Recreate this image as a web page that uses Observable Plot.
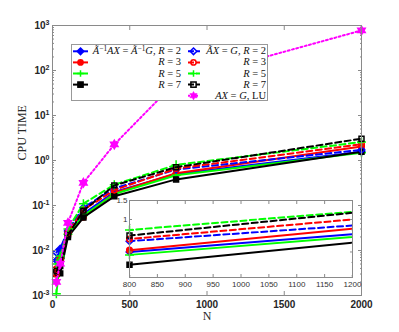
<!DOCTYPE html>
<html><head><meta charset="utf-8">
<script src="https://cdn.jsdelivr.net/npm/d3@7"></script>
<script src="https://cdn.jsdelivr.net/npm/@observablehq/plot@0.6"></script>
<style>
body{margin:0;background:#fff;}
#wrap{position:relative;width:399px;height:332px;overflow:hidden;background:#fff;}
#inset{position:absolute;left:109px;top:195px;}
#legend{position:absolute;left:71px;top:44px;width:195px;height:55px;border:1px solid #999;background:#fff;
  font-family:"Liberation Serif","Times New Roman",serif;font-size:10.5px;color:#111;}
#legend .t{position:absolute;text-align:right;white-space:nowrap;}
#legend i{font-style:italic;}
#legend sup{font-size:70%;vertical-align:0;position:relative;top:-0.45em;}
#legend svg{position:absolute;overflow:visible;}
</style></head><body><div id="wrap"></div>
<script>
// ---------------- data ----------------
const N = [25, 50, 100, 200, 400, 800, 2000];
// Ã^{-1} A X = Ã^{-1} G (solid lines, filled markers)
const pre_R2 = [0.006, 0.0103, 0.026, 0.065, 0.20, 0.50, 1.56];
const pre_R3 = [0.0039, 0.0062, 0.022, 0.055, 0.19, 0.52, 2.04];
const pre_R5 = [0.0011, 0.0066, 0.023, 0.060, 0.18, 0.47, 1.49];
const pre_R7 = [0.0030, 0.0031, 0.020, 0.054, 0.16, 0.38, 1.57];
// Ã X = G (dashed lines, open markers)
const til_R2 = [0.0090, 0.0110, 0.028, 0.090, 0.24, 0.63, 1.72];
const til_R3 = [0.0030, 0.0065, 0.025, 0.080, 0.22, 0.66, 2.30];
const til_R5 = [0.0050, 0.0075, 0.030, 0.110, 0.29, 0.80, 2.57];
const til_R7 = [0.0035, 0.0045, 0.022, 0.077, 0.28, 0.71, 3.05];
// A X = G, LU
const lu = [0.0020, 0.0051, 0.041, 0.32, 2.27, 57, 776];

const yMajor = [1e-3, 1e-2, 1e-1, 1, 10, 100, 1000];
const xTicks = [0, 500, 1000, 1500, 2000];
const insetXTicks = [800, 850, 900, 950, 1000, 1050, 1100, 1150, 1200];
const insetYTicks = [0.5, 1, 1.5];

// ---------------- styles ----------------
const hexagram = {draw(ctx, size){
  const R = Math.sqrt(size) * 0.75, r = R / Math.sqrt(3);
  for (let i = 0; i < 12; i++) {
    const a = Math.PI / 6 * i - Math.PI / 2, rr = i % 2 ? r : R;
    const x = rr * Math.cos(a), y = rr * Math.sin(a);
    i ? ctx.lineTo(x, y) : ctx.moveTo(x, y);
  }
  ctx.closePath();
}};

const series = [
  {v: pre_R2, color: "#0000ff", dash: null, symbol: "diamond2", filled: true, r: 3},
  {v: pre_R3, color: "#ff0000", dash: null, symbol: "circle", filled: true, r: 2.8},
  {v: pre_R5, color: "#00ff00", dash: null, symbol: "plus", filled: true, r: 3},
  {v: pre_R7, color: "#000000", dash: null, symbol: "square", filled: true, r: 2.8},
  {v: til_R2, color: "#0000ff", dash: "6,3.5", symbol: "diamond2", filled: false, r: 3},
  {v: til_R3, color: "#ff0000", dash: "6,3.5", symbol: "circle", filled: false, r: 2.8},
  {v: til_R5, color: "#00ff00", dash: "6,3.5", symbol: "plus", filled: false, r: 3},
  {v: til_R7, color: "#000000", dash: "6,3.5", symbol: "square", filled: false, r: 2.8},
  {v: lu, color: "#ff00ff", dash: "2,2.4", symbol: hexagram, filled: true, r: 3.2, dotted: true}
];

function seriesMarks(filter, clip) {
  const m = [];
  for (const s of series) {
    const data = N.map((n, i) => ({N: n, v: s.v[i]}));
    m.push(Plot.line(data, {x: "N", y: "v", stroke: s.color, strokeWidth: 2, strokeDasharray: s.dash, clip}));
    m.push(Plot.dot(data, {x: "N", y: "v", symbol: s.symbol, r: s.r, stroke: s.color,
      fill: s.filled ? s.color : "none", strokeWidth: 1.5, filter}));
  }
  return m;
}

const yMinor = [];
for (let e = -3; e < 3; e++) for (let k = 2; k < 10; k++) yMinor.push(k * 10 ** e);

const axisColor = "#8a8a8a";
const W = 399, H = 332;
const blank = () => "";

const main = Plot.plot({
  width: W, height: H,
  marginLeft: 52, marginRight: 38, marginTop: 25, marginBottom: 37,
  style: {fontFamily: "'Liberation Sans', Arial, sans-serif", fontSize: "10px", fontWeight: "bold", color: "#262626", background: "white"},
  x: {domain: [0, 2000], axis: null},
  y: {type: "log", domain: [1e-3, 1e3], axis: null},
  marks: [
    ...seriesMarks(null, false),
    Plot.axisY(yMajor, {anchor: "left", label: null, tickSize: -4, tickPadding: 7, stroke: axisColor, tickFormat: d => "10^" + Math.round(Math.log10(d))}),
    Plot.axisY(yMinor, {anchor: "left", label: null, tickSize: -2, stroke: axisColor, tickFormat: blank}),
    Plot.axisY(yMajor, {anchor: "right", label: null, tickSize: -4, stroke: axisColor, tickFormat: blank}),
    Plot.axisY(yMinor, {anchor: "right", label: null, tickSize: -2, stroke: axisColor, tickFormat: blank}),
    Plot.axisX(xTicks, {anchor: "bottom", label: null, tickSize: -4, tickPadding: 9, stroke: axisColor, tickFormat: d => String(d)}),
    Plot.axisX(xTicks, {anchor: "top", label: null, tickSize: -4, stroke: axisColor, tickFormat: blank}),
    Plot.frame({stroke: axisColor}),
    Plot.text(["CPU TIME"], {frameAnchor: "left", rotate: -90, dx: -30, fontFamily: "'Liberation Serif', serif", fontSize: 12, fontWeight: "normal", fill: "#262626"}),
    Plot.text(["N"], {frameAnchor: "bottom", dy: 24, fontFamily: "'Liberation Serif', serif", fontSize: 12, fontWeight: "normal", fill: "#262626"})
  ]
});

// superscript tick labels
d3.select(main).selectAll("text").each(function() {
  const t = this.textContent;
  if (/^10\^-?\d+$/.test(t)) {
    const e = t.split("^")[1];
    this.textContent = "";
    d3.select(this).append("tspan").text("10");
    d3.select(this).append("tspan").attr("dy", "-0.5em").attr("font-size", "7px").text(e);
  }
});

const inYMinor = [0.3, 0.4, 0.6, 0.7, 0.8, 0.9];
const inYDomain = [0.29, 1.5];
const inset = Plot.plot({
  width: 248, height: 96,
  marginLeft: 20, marginRight: 5, marginTop: 5, marginBottom: 14,
  style: {fontFamily: "'Liberation Sans', Arial, sans-serif", fontSize: "8px", color: "#333", background: "transparent", overflow: "visible"},
  x: {domain: [800, 1200], axis: null},
  y: {type: "log", domain: inYDomain, axis: null},
  marks: [
    Plot.frame({fill: "white"}),
    ...seriesMarks(d => d.N >= 800 && d.N <= 1200 && d.v >= inYDomain[0] && d.v <= inYDomain[1], true),
    Plot.axisX(insetXTicks, {anchor: "bottom", label: null, tickSize: -3, tickPadding: 7, stroke: axisColor, tickFormat: d => String(d)}),
    Plot.axisX(insetXTicks, {anchor: "top", label: null, tickSize: -3, stroke: axisColor, tickFormat: blank}),
    Plot.axisY(insetYTicks, {anchor: "left", label: null, tickSize: -3, tickPadding: 5, stroke: axisColor, tickFormat: d => String(d)}),
    Plot.axisY(insetYTicks, {anchor: "right", label: null, tickSize: -3, stroke: axisColor, tickFormat: blank}),
    Plot.axisY(inYMinor, {anchor: "right", label: null, tickSize: -1.5, stroke: axisColor, tickFormat: blank}),
    Plot.axisY(inYMinor, {anchor: "left", label: null, tickSize: -1.5, stroke: axisColor, tickFormat: blank}),
    Plot.frame({stroke: axisColor})
  ]
});
inset.id = "inset";

const wrap = document.getElementById("wrap");
wrap.appendChild(main);
wrap.appendChild(inset);

// ---------------- legend ----------------
const legendRows = [
  {col: 0, row: 0, s: 0, html: "<i>Ã</i><sup>−1</sup><i>AX</i> = <i>Ã</i><sup>−1</sup><i>G</i>, <i>R</i> = 2"},
  {col: 0, row: 1, s: 1, html: "<i>R</i> = 3"},
  {col: 0, row: 2, s: 2, html: "<i>R</i> = 5"},
  {col: 0, row: 3, s: 3, html: "<i>R</i> = 7"},
  {col: 1, row: 0, s: 4, html: "<i>ÃX</i> = <i>G</i>, <i>R</i> = 2"},
  {col: 1, row: 1, s: 5, html: "<i>R</i> = 3"},
  {col: 1, row: 2, s: 6, html: "<i>R</i> = 5"},
  {col: 1, row: 3, s: 7, html: "<i>R</i> = 7"},
  {col: 1, row: 4, s: 8, html: "<i>AX</i> = <i>G</i>, LU"}
];
const leg = document.createElement("div");
leg.id = "legend";
function markerSVG(s, cx, cy) {
  const c = s.color, f = s.filled ? c : "none";
  if (s.symbol === "diamond2") return `<path d="M${cx},${cy-3.3}L${cx+3.3},${cy}L${cx},${cy+3.3}L${cx-3.3},${cy}Z" fill="${f}" stroke="${c}" stroke-width="1.5"/>`;
  if (s.symbol === "circle") return `<circle cx="${cx}" cy="${cy}" r="2.6" fill="${f}" stroke="${c}" stroke-width="1.5"/>`;
  if (s.symbol === "plus") return `<path d="M${cx-3.2},${cy}H${cx+3.2}M${cx},${cy-3.2}V${cy+3.2}" stroke="${c}" stroke-width="1.5"/>`;
  if (s.symbol === "square") return `<rect x="${cx-2.6}" y="${cy-2.6}" width="5.2" height="5.2" fill="${f}" stroke="${c}" stroke-width="1.5"/>`;
  const R = 4.2, r = R / Math.sqrt(3); let d = "";
  for (let i = 0; i < 12; i++) { const a = Math.PI / 6 * i - Math.PI / 2, rr = i % 2 ? r : R; d += (i ? "L" : "M") + (cx + rr * Math.cos(a)).toFixed(2) + "," + (cy + rr * Math.sin(a)).toFixed(2); }
  return `<path d="${d}Z" fill="${c}" stroke="${c}" stroke-width="0.5"/>`;
}
let html = "";
for (const r of legendRows) {
  const s = series[r.s];
  const cy = 6.3 + 11.1 * r.row;
  const x0 = r.col === 0 ? 1 : 116, x1 = r.col === 0 ? 16 : 128, cx = r.col === 0 ? 8.5 : 121.5;
  html += `<svg style="left:0;top:0" width="1" height="1"><line x1="${x0}" x2="${x1}" y1="${cy}" y2="${cy}" stroke="${s.color}" stroke-width="2" ${s.dash ? `stroke-dasharray="${s.dotted ? "2,2" : "6,2"}"` : ""}/>${markerSVG(s, cx, cy)}</svg>`;
  const right = r.col === 0 ? 195 - 109 : 195 - 194;
  html += `<div class="t" style="right:${right}px;top:${cy - 6}px;line-height:12px">${r.html}</div>`;
}
leg.innerHTML = html;
wrap.appendChild(leg);
</script></body></html>
